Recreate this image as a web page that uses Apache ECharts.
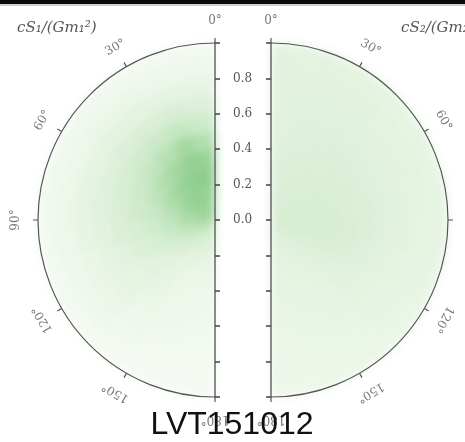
<!DOCTYPE html>
<html><head><meta charset="utf-8">
<script src="https://cdn.jsdelivr.net/npm/echarts@6/dist/echarts.min.js"></script>
<style>
html,body{margin:0;padding:0;background:#fff;}
#wrap{position:relative;width:465px;height:442px;overflow:hidden;}
#bg,#fg{position:absolute;left:0;top:0;width:465px;height:442px;}
#bg{filter:blur(5px);}
</style></head>
<body><div id="wrap"><div id="bg"></div><div id="fg"></div></div>
<script>
// ---- data ----
const tiltEdges = [0,15,30,45,60,75,90,105,120,135,150,165,180];
const spinEdges = [0,0.1,0.2,0.3,0.4,0.5,0.6,0.7,0.8,0.9,1.0];
// density rows: one per tilt bin (0-15 ... 165-180), columns spin bins (0-0.1 ... 0.9-1.0)
const densityS1 = [
  [0.80,0.85,0.95,0.87,0.65,0.43,0.30,0.19,0.12,0.07],
  [0.82,0.90,0.95,0.90,0.75,0.50,0.33,0.20,0.12,0.07],
  [0.82,0.90,0.90,0.80,0.62,0.45,0.32,0.22,0.14,0.08],
  [0.85,0.88,0.82,0.68,0.52,0.40,0.30,0.22,0.14,0.08],
  [0.85,0.82,0.72,0.58,0.45,0.36,0.28,0.20,0.13,0.08],
  [0.80,0.72,0.60,0.48,0.40,0.33,0.27,0.20,0.13,0.08],
  [0.75,0.65,0.52,0.42,0.35,0.30,0.24,0.18,0.12,0.07],
  [0.65,0.55,0.43,0.35,0.30,0.25,0.20,0.15,0.10,0.06],
  [0.55,0.42,0.33,0.27,0.24,0.21,0.18,0.14,0.10,0.06],
  [0.48,0.35,0.26,0.21,0.18,0.16,0.13,0.10,0.07,0.05],
  [0.45,0.30,0.20,0.15,0.13,0.11,0.09,0.07,0.05,0.04],
  [0.45,0.30,0.20,0.14,0.11,0.09,0.07,0.06,0.05,0.04]
];
const densityS2 = [
  [0.32,0.31,0.30,0.29,0.28,0.27,0.26,0.25,0.24,0.23],
  [0.33,0.32,0.31,0.30,0.29,0.28,0.27,0.26,0.24,0.23],
  [0.34,0.33,0.32,0.31,0.30,0.29,0.27,0.26,0.24,0.22],
  [0.35,0.34,0.33,0.32,0.31,0.29,0.27,0.25,0.23,0.21],
  [0.36,0.36,0.35,0.33,0.31,0.29,0.27,0.25,0.23,0.21],
  [0.37,0.37,0.36,0.34,0.32,0.30,0.27,0.25,0.22,0.20],
  [0.37,0.37,0.36,0.35,0.33,0.30,0.27,0.24,0.21,0.19],
  [0.36,0.35,0.34,0.33,0.31,0.28,0.25,0.22,0.20,0.18],
  [0.34,0.32,0.30,0.28,0.26,0.24,0.22,0.20,0.18,0.16],
  [0.32,0.29,0.26,0.24,0.22,0.20,0.19,0.17,0.16,0.15],
  [0.30,0.27,0.24,0.22,0.20,0.18,0.17,0.16,0.15,0.14],
  [0.30,0.26,0.23,0.21,0.19,0.17,0.16,0.15,0.14,0.13]
];
const tiltTicks = [0,30,60,90,120,150,180];
const magTicks = [0.0,0.2,0.4,0.6,0.8];
const titleS1 = 'cS₁/(Gm₁²)';
const titleS2 = 'cS₂/(Gm₂²)';
const eventName = 'LVT151012';

// ---- layout ----
const CY = 220, R = 177, CXL = 215, CXR = 271;
const serif = '"DejaVu Serif","Liberation Serif",serif';

function cells(dens){
  const out = [];
  for (let j=0;j<dens.length;j++) for (let i=0;i<dens[j].length;i++)
    out.push([spinEdges[i], spinEdges[i+1], tiltEdges[j], tiltEdges[j+1], dens[j][i]]);
  return out;
}
function renderItem(params, api){
  const r0 = api.value(0), r1 = api.value(1), a0 = api.value(2), a1 = api.value(3);
  const pts = [], n = 6;
  for (let k=0;k<=n;k++) pts.push(api.coord([r1, a0+(a1-a0)*k/n]));
  for (let k=n;k>=0;k--) pts.push(api.coord([r0, a0+(a1-a0)*k/n]));
  const c = api.visual('color');
  return {type:'polygon', shape:{points:pts}, style:{fill:c, stroke:c, lineWidth:0.8}};
}
function polars(){
  return [
    {center:[CXL,CY], radius:R},
    {center:[CXR,CY], radius:R}
  ];
}
function angleAxes(show){
  const base = {type:'value', min:0, max:180, interval:30, startAngle:90,
    axisLine:{show:show, lineStyle:{color:'#555', width:1.2}},
    axisTick:{show:show, length:5, lineStyle:{color:'#555', width:1.2}},
    axisLabel:{show:false}, splitLine:{show:false}};
  return [
    Object.assign({}, base, {polarIndex:0, endAngle:270, clockwise:false}),
    Object.assign({}, base, {polarIndex:1, endAngle:-90, clockwise:true})
  ];
}
function radiusAxes(){
  return [
    {polarIndex:0, type:'value', min:0, max:1, show:false},
    {polarIndex:1, type:'value', min:0, max:1, show:false}
  ];
}

// background density chart
const bg = echarts.init(document.getElementById('bg'), null, {renderer:'canvas'});
bg.setOption({
  animation:false,
  polar: polars(), angleAxis: angleAxes(false), radiusAxis: radiusAxes(),
  visualMap:{show:false, type:'continuous', min:0, max:1, dimension:4, seriesIndex:[0,1],
    inRange:{color:['#f8fcf7','#e2f2de','#c6e7c2','#a6d9a4','#88ca88']}},
  series:[
    {type:'custom', coordinateSystem:'polar', polarIndex:0, renderItem:renderItem, data:cells(densityS1), encode:{radius:[0,1], angle:[2,3]}},
    {type:'custom', coordinateSystem:'polar', polarIndex:1, renderItem:renderItem, data:cells(densityS2), encode:{radius:[0,1], angle:[2,3]}}
  ]
});

// foreground axes chart
const labelData = (sign) => tiltTicks.map(t => ({value:[1.125, t], label:{rotate: sign*t}}));
const labelStyle = {show:true, position:'inside', formatter:(p)=>p.value[1]+'°', fontFamily:serif, fontSize:12, color:'#555'};
const fg = echarts.init(document.getElementById('fg'), null, {renderer:'canvas'});
fg.setOption({
  animation:false,
  backgroundColor:'transparent',
  title:[
    {text:titleS1, left:12, top:16, textStyle:{fontFamily:serif, fontStyle:'italic', fontWeight:'normal', fontSize:15, color:'#555'}},
    {text:titleS2, left:396, top:16, textStyle:{fontFamily:serif, fontStyle:'italic', fontWeight:'normal', fontSize:15, color:'#555'}}
  ],
  polar: polars(), angleAxis: angleAxes(true), radiusAxis: radiusAxes(),
  grid:[
    {left:0, right:465-CXL, top:CY-R, height:2*R},
    {left:CXR, right:0, top:CY-R, height:2*R}
  ],
  xAxis:[{gridIndex:0, show:false, min:0, max:1},{gridIndex:1, show:false, min:0, max:1}],
  yAxis:[
    {gridIndex:0, position:'right', type:'value', min:-1, max:1, interval:0.2,
      axisLine:{show:true, onZero:false, lineStyle:{color:'#666', width:1.5}},
      axisTick:{show:true, length:5, lineStyle:{color:'#444', width:1.5}},
      axisLabel:{show:true, margin:18, fontFamily:serif, fontSize:12, color:'#555',
        formatter:(v)=>{const f = magTicks.find(m=>Math.abs(m-v)<1e-6); return f===undefined?'':f.toFixed(1);}},
      splitLine:{show:false}},
    {gridIndex:1, position:'left', type:'value', min:-1, max:1, interval:0.2,
      axisLine:{show:true, onZero:false, lineStyle:{color:'#666', width:1.5}},
      axisTick:{show:true, length:5, lineStyle:{color:'#444', width:1.5}},
      axisLabel:{show:false}, splitLine:{show:false}}
  ],
  series:[
    {type:'scatter', coordinateSystem:'polar', polarIndex:0, symbolSize:2, silent:true, clip:false,
      itemStyle:{color:'rgba(0,0,0,0)'}, label:labelStyle, labelLayout:{hideOverlap:false}, data:labelData(1)},
    {type:'scatter', coordinateSystem:'polar', polarIndex:1, symbolSize:2, silent:true, clip:false,
      itemStyle:{color:'rgba(0,0,0,0)'}, label:labelStyle, labelLayout:{hideOverlap:false}, data:labelData(-1)}
  ],
  graphic:[
    {type:'rect', shape:{x:0, y:0, width:465, height:4}, style:{fill:'#0a0a0a'}, z:100},
    {type:'rect', shape:{x:0, y:4, width:465, height:2}, style:{fill:'#c9d3d6'}, z:100},
    {type:'text', style:{text:eventName, x:232, y:425, align:'center', verticalAlign:'middle',
      font:'32px "Liberation Sans", Arial, sans-serif', fill:'#111'}, z:100}
  ]
});
</script></body></html>
